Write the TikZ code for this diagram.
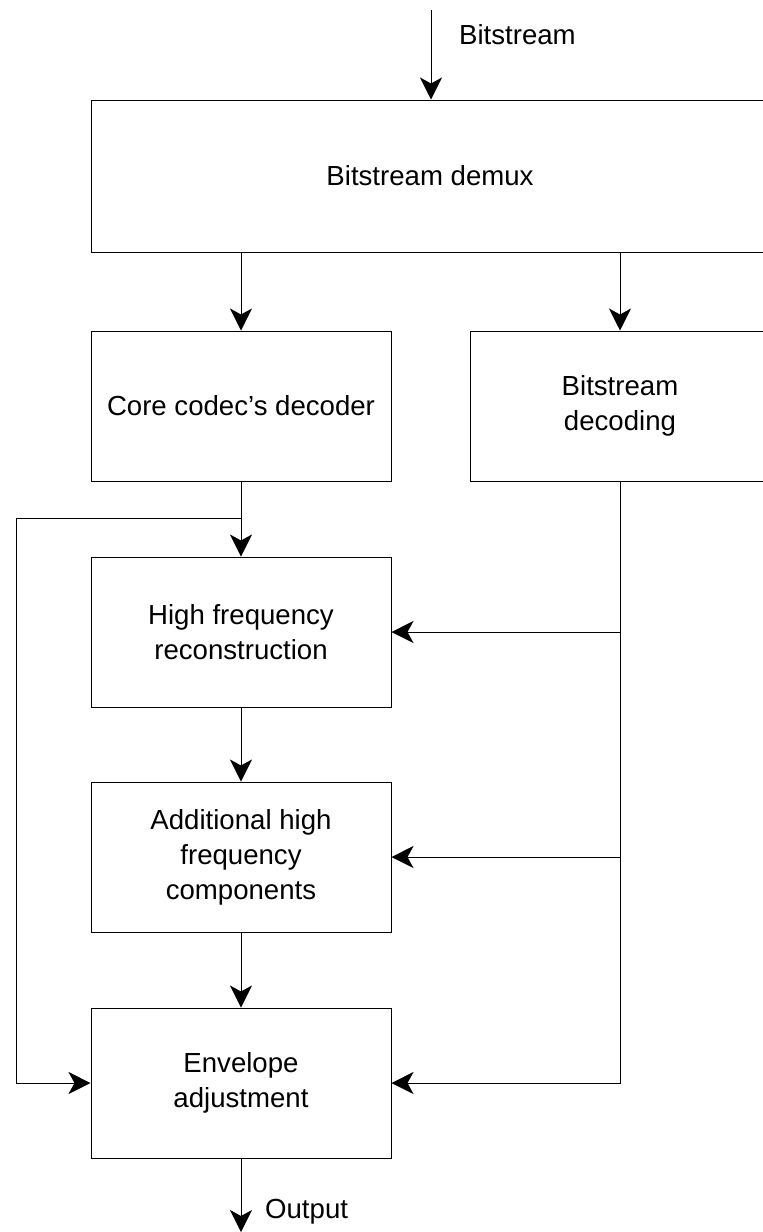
\documentclass[tikz,border=0pt]{standalone}
\usepackage{fontspec}
\setmainfont{Liberation Sans}
\usetikzlibrary{arrows.meta}
\begin{document}
\begin{tikzpicture}[x=.5pt,y=-.5pt,>={Stealth[length=11pt,width=11pt,inset=3pt]},line width=.5pt,
		font=\fontsize{13.8}{17.5}\selectfont,
		blk/.style={draw,inner sep=0pt,minimum width=150pt,minimum height=75pt,align=center}]
	\useasboundingbox (0,0) rectangle (762,1232);
	\path (431,10) coordinate (in)
	(241,518) coordinate (split)
	(16,1083) coordinate (lft)
	(241,1232) coordinate (out);
	\node[blk,minimum width=339pt,minimum height=76pt] (demux) at (430,176) {Bitstream demux};
	\node[blk] (core) at (241,406) {Core codec’s decoder};
	\node[blk] (dec) at (620,406) {Bitstream\\decoding};
	\node[blk] (hfr) at (241,632) {High frequency\\reconstruction};
	\node[blk] (add) at (241,857) {Additional high\\frequency\\components};
	\node[blk] (env) at (241,1083) {Envelope\\adjustment};
	\node[anchor=west] (lbin) at (452,35) {Bitstream};
	\node[anchor=west] (lbout) at (258,1212) {Output};
	% connectors
	\draw[->] (in) -- (in |- demux.north);
	\draw[->] (core |- demux.south) -- (core);
	\draw[->] (dec |- demux.south) -- (dec);
	\draw[->] (core) -- (hfr);
	\draw[->] (hfr) -- (add);
	\draw[->] (add) -- (env);
	\draw[->] (env) -- (out);
	\draw[->] (split) -| (lft) -- (env.west);
	\draw[->] (dec) |- (env.east);
	\draw[->] (dec |- hfr.east) -- (hfr.east);
	\draw[->] (dec |- add.east) -- (add.east);
\end{tikzpicture}
\end{document}
